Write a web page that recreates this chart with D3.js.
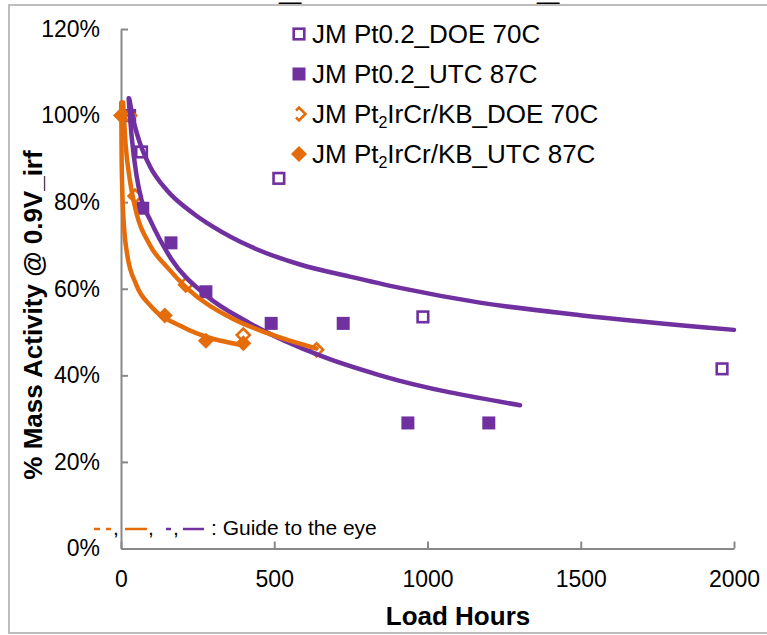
<!DOCTYPE html>
<html>
<head>
<meta charset="utf-8">
<script src="https://cdn.jsdelivr.net/npm/d3@7"></script>
<style>
  body { margin: 0; background: #fff; }
  svg { display: block; font-family: "Liberation Sans", Arial, sans-serif; }
</style>
</head>
<body>
<div id="chart"></div>
<script>
// measured points (load hours, % mass activity)
let doePtHours = [28, 67, 515, 985, 1961];
let doePtVals = [100, 91.6, 85.5, 53.5, 41.5];
let utcPtHours = [71, 163, 277, 490, 725, 936, 1200];
let utcPtVals = [78.6, 70.6, 59.3, 52.0, 52.0, 29.0, 29.0];
let doeIrHours = [28, 46, 211, 399, 638];
let doeIrVals = [100, 81.4, 60.9, 49.3, 45.9];
let utcIrHours = [0, 143, 277, 399];
let utcIrVals = [100, 53.8, 48.0, 47.4];

// guide-to-the-eye curves
let guideDoePtHours = [27, 43, 62, 95, 149, 236, 301, 421, 584, 747, 910, 1171, 1497, 2000];
let guideDoePtVals = [103.9, 98.2, 93.6, 88.2, 82.8, 77.4, 74.3, 69.8, 65.6, 62.8, 60.2, 56.8, 53.9, 50.5];
let guideUtcPtHours = [25, 35, 51, 67, 95, 163, 277, 421, 659, 845, 1302];
let guideUtcPtVals = [104, 95, 86, 80.5, 75.9, 67, 58.5, 52, 44.3, 40, 33.1];
let guideDoeIrHours = [7, 15, 29, 46, 95, 149, 214, 366, 475, 638];
let guideDoeIrVals = [103, 93.4, 85.1, 78.8, 70, 65.1, 60.2, 53, 49.8, 46.2];
let guideUtcIrHours = [0.7, 2, 5, 10, 20, 50, 100, 200, 399];
let guideUtcIrVals = [103, 90.6, 80.9, 74.1, 68, 60.9, 55.8, 51.2, 46.9];

let xTicks = [0, 500, 1000, 1500, 2000];
let yTicks = [0, 20, 40, 60, 80, 100, 120];

let legendNames = ["JM Pt0.2_DOE 70C", "JM Pt0.2_UTC 87C", "JM Pt|2|IrCr/KB_DOE 70C", "JM Pt|2|IrCr/KB_UTC 87C"];

let width = 767;
let height = 635;
let purple = "#7030a0";
let orange = "#e46c0a";
let axisColor = "#888";

let svg = d3.select("#chart")
    .append("svg")
    .attr("width", width)
    .attr("height", height);

// outer chart border
svg.append("rect")
    .attr("x", 9).attr("y", 5)
    .attr("width", 820).attr("height", 628)
    .attr("fill", "none")
    .attr("stroke", "#bdbdbd")
    .attr("stroke-width", 2);

// bits of the cut-off title
svg.append("text").attr("x", 279).attr("y", -1)
    .style("font-size", "40px").style("font-weight", "bold").text("_");
svg.append("text").attr("x", 537).attr("y", -1)
    .style("font-size", "40px").style("font-weight", "bold").text("_");

let x = d3.scaleLinear().domain([0, 2000]).range([121, 734]);
let y = d3.scaleLinear().domain([0, 120]).range([548.5, 29]);

// axes
let xAxis = svg.append("g")
    .attr("transform", "translate(0," + y(0) + ")")
    .call(d3.axisBottom(x).tickValues(xTicks).tickSizeInner(-7).tickSizeOuter(0).tickPadding(22)
        .tickFormat(d => String(d)));
let yAxis = svg.append("g")
    .attr("transform", "translate(" + x(0) + ",0)")
    .call(d3.axisLeft(y).tickValues(yTicks).tickSizeInner(-7).tickSizeOuter(0).tickPadding(21)
        .tickFormat(d => d + "%"));

[xAxis, yAxis].forEach(function(a) {
    a.select(".domain").attr("stroke", axisColor).attr("stroke-width", 2);
    a.selectAll(".tick line").attr("stroke", axisColor).attr("stroke-width", 2);
    a.selectAll(".tick text")
        .style("font-size", "23px")
        .style("font-family", "'Liberation Sans', Arial, sans-serif")
        .attr("fill", "#000");
});
yAxis.selectAll(".tick text").attr("dy", "0.32em");

// axis titles
svg.append("text")
    .attr("x", 458).attr("y", 625)
    .attr("text-anchor", "middle")
    .style("font-size", "26px").style("font-weight", "bold")
    .text("Load Hours");

svg.append("text")
    .attr("transform", "translate(42,315) rotate(-90)")
    .attr("text-anchor", "middle")
    .style("font-size", "26px").style("font-weight", "bold")
    .text("% Mass Activity @ 0.9V_irf");

// markers
function sq(g, px, py, filled) {
    if (filled) {
        g.append("rect").attr("x", px - 6.5).attr("y", py - 6.5)
            .attr("width", 13).attr("height", 13).attr("fill", purple);
    } else {
        g.append("rect").attr("x", px - 5.3).attr("y", py - 5.3)
            .attr("width", 10.6).attr("height", 10.6)
            .attr("fill", "#fff").attr("stroke", purple).attr("stroke-width", 2.6);
    }
}
function dia(g, px, py, filled) {
    let r = filled ? 8 : 6.5;
    let p = "M" + px + "," + (py - r) + "L" + (px + r) + "," + py + "L" + px + "," + (py + r) + "L" + (px - r) + "," + py + "Z";
    if (filled) {
        g.append("path").attr("d", p).attr("fill", orange);
    } else {
        g.append("path").attr("d", p).attr("fill", "#fff")
            .attr("stroke", orange).attr("stroke-width", 2.6);
    }
}

let pts = svg.append("g");
doePtHours.forEach((h, i) => sq(pts, x(h), y(doePtVals[i]), false));
utcPtHours.forEach((h, i) => sq(pts, x(h), y(utcPtVals[i]), true));
doeIrHours.forEach((h, i) => dia(pts, x(h), y(doeIrVals[i]), false));
utcIrHours.forEach((h, i) => dia(pts, x(h), y(utcIrVals[i]), true));

// guide lines on top of the markers
let line = d3.line()
    .x(d => x(d[0]))
    .y(d => y(d[1]))
    .curve(d3.curveMonotoneX);

let guides = [
    {h: guideDoePtHours, v: guideDoePtVals, c: purple},
    {h: guideUtcPtHours, v: guideUtcPtVals, c: purple},
    {h: guideDoeIrHours, v: guideDoeIrVals, c: orange},
    {h: guideUtcIrHours, v: guideUtcIrVals, c: orange}
];
svg.selectAll(".guide")
    .data(guides)
    .enter().append("path")
    .attr("class", "guide")
    .attr("d", d => line(d.h.map((h, i) => [h, d.v[i]])))
    .attr("fill", "none")
    .attr("stroke", d => d.c)
    .attr("stroke-width", 4.5)
    .attr("stroke-linecap", "round");

// legend
let legendG = svg.selectAll(".legend")
    .data(legendNames)
    .enter().append("g")
    .attr("class", "legend")
    .attr("transform", (d, i) => "translate(299," + (34 + i * 40) + ")");

legendG.each(function(d, i) {
    let g = d3.select(this);
    if (i === 0) sq(g, 0, 0, false);
    if (i === 1) sq(g, 0, 0, true);
    if (i === 2) {
        g.append("path").attr("d", "M-3,-3.5L0,-6.5L6.5,0L0,6.5L-3,3.5")
            .attr("fill", "none").attr("stroke", orange).attr("stroke-width", 2.6);
    }
    if (i === 3) dia(g, 0, 0, true);
    let t = g.append("text")
        .attr("x", 13).attr("y", 8.5)
        .style("font-size", "26px");
    let parts = d.split("|");
    t.append("tspan").text(parts[0]);
    if (parts.length > 1) {
        t.append("tspan").attr("dy", 5).style("font-size", "16px").text(parts[1]);
        t.append("tspan").attr("dy", -5).text(parts[2]);
    }
});

// "guide to the eye" note
let note = svg.append("g").attr("transform", "translate(0,529)");
let noteDashes = [
    {x1: 94, x2: 100, c: orange}, {x1: 106, x2: 111, c: orange},
    {x1: 125, x2: 147, c: orange},
    {x1: 166, x2: 171, c: purple},
    {x1: 183, x2: 204, c: purple}
];
note.selectAll("line")
    .data(noteDashes)
    .enter().append("line")
    .attr("x1", d => d.x1).attr("x2", d => d.x2)
    .attr("y1", 0).attr("y2", 0)
    .attr("stroke", d => d.c)
    .attr("stroke-width", 2.5);
[113, 148, 173].forEach(function(cx) {
    note.append("text").attr("x", cx).attr("y", 6)
        .style("font-size", "21px").text(",");
});
note.append("text")
    .attr("x", 211).attr("y", 6)
    .style("font-size", "21px")
    .text(": Guide to the eye");
</script>
</body>
</html>
